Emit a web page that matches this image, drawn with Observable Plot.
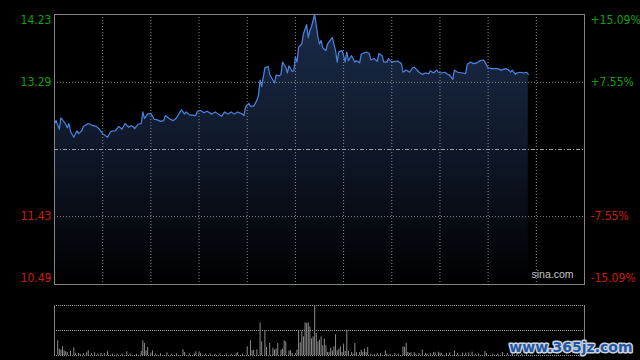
<!DOCTYPE html>
<html>
<head>
<meta charset="utf-8">
<script src="https://cdn.jsdelivr.net/npm/d3@7"></script>
<script src="https://cdn.jsdelivr.net/npm/@observablehq/plot@0.6"></script>
<style>
  html, body { margin: 0; padding: 0; background: #000; }
  #wrap { position: relative; width: 640px; height: 360px; background: #000; overflow: hidden; }
  #price, #vol { position: absolute; left: 0; }
  #price { top: 0; }
  #vol { top: 290px; }
</style>
</head>
<body>
<div id="wrap"><div id="price"></div><div id="vol"></div></div>
<script>
// ---- data ----
const prevClose = 12.36;
const sessionMinutes = 330; // 09:30-12:00, 13:00-16:00
const gridMinutes = [30, 60, 90, 120, 150, 180, 210, 240, 270, 300];

const minutes = [0,1,3,4,7,8,9,10,12,14,15,17,18,21,24,26,28,30,33,35,38,40,42,44,46,48,50,52,54,55,56,58,60,62,64,66,68,69,72,74,76,79,81,82,84,88,89,91,93,95,98,100,102,104,106,108,110,112,114,117,118,119,121,122,124,126,127,128,129,131,133,134,135,137,138,140,141,142,144,145,146,148,149,150,151,152,154,155,157,158,159,160,162,164,165,166,167,169,170,173,175,176,177,179,180,181,182,183,185,187,188,190,191,192,194,196,197,199,201,202,204,205,207,208,210,212,214,216,217,219,221,223,224,227,229,231,233,234,236,238,239,241,243,245,246,248,249,251,254,256,257,259,261,263,265,267,268,270,272,274,276,278,281,283,284,285,287,288,290,292,294,295];
const prices = [12.72,12.76,12.64,12.80,12.71,12.66,12.72,12.61,12.53,12.62,12.58,12.62,12.68,12.72,12.69,12.68,12.64,12.58,12.53,12.61,12.62,12.68,12.64,12.72,12.67,12.69,12.65,12.71,12.72,12.88,12.79,12.85,12.86,12.78,12.77,12.75,12.76,12.83,12.78,12.76,12.80,12.91,12.85,12.88,12.84,12.83,12.89,12.90,12.87,12.89,12.85,12.88,12.85,12.82,12.88,12.85,12.88,12.85,12.88,12.85,12.83,12.95,13.00,12.96,12.96,13.04,13.11,13.32,13.23,13.49,13.51,13.40,13.36,13.28,13.39,13.38,13.40,13.57,13.50,13.42,13.52,13.44,13.45,13.64,13.57,13.78,13.82,13.96,14.09,13.91,14.01,14.06,14.23,13.92,13.82,13.87,13.77,13.73,13.82,13.91,13.73,13.57,13.71,13.73,13.66,13.57,13.71,13.59,13.66,13.57,13.59,13.56,13.68,13.69,13.71,13.69,13.60,13.62,13.58,13.69,13.66,13.57,13.57,13.62,13.57,13.58,13.58,13.55,13.43,13.46,13.43,13.49,13.50,13.43,13.40,13.42,13.41,13.45,13.42,13.46,13.43,13.42,13.43,13.40,13.39,13.33,13.46,13.43,13.42,13.41,13.54,13.57,13.55,13.56,13.59,13.60,13.57,13.49,13.48,13.48,13.48,13.46,13.48,13.46,13.43,13.46,13.40,13.42,13.43,13.42,13.43,13.40];

const volMinutes = [0,2,3,4,5,6,7,8,10,12,13,15,16,18,20,21,23,25,27,29,31,33,36,39,42,45,47,51,54,55,56,57,58,60,61,63,66,70,73,76,80,81,84,87,88,90,91,94,97,100,103,107,110,113,114,117,120,122,123,124,126,128,129,131,132,134,136,137,138,139,141,142,143,144,146,147,148,150,151,152,153,154,155,156,157,158,159,160,161,162,163,164,165,166,167,168,169,170,171,172,173,174,175,176,177,178,179,180,181,182,183,185,186,187,188,190,191,192,193,194,195,197,199,201,203,206,207,209,212,214,217,218,219,220,221,222,224,225,227,229,231,232,234,236,237,239,240,241,244,246,249,251,254,256,258,260,262,264,268,269,273,276,279,282,285,288,291,294];
const volumes = [24,44,19,16,26,14,11,9,12,23,6,6,4,6,8,14,6,8,4,6,6,11,4,4,4,11,4,4,12,44,36,14,24,7,14,5,5,8,4,5,17,9,5,5,11,11,6,4,4,4,5,4,4,5,8,4,26,44,14,16,17,98,41,74,24,36,22,16,19,36,16,19,44,41,14,14,6,6,16,74,38,72,56,98,96,98,86,50,56,149,66,41,46,56,29,49,29,9,9,22,14,26,62,14,19,26,9,34,12,76,12,9,4,36,9,9,16,9,19,9,24,4,4,6,6,14,4,4,6,4,26,24,36,9,6,8,9,4,6,16,6,4,6,9,8,10,7,6,6,8,14,6,7,7,8,10,4,4,12,6,4,4,9,6,7,6,5,6];

const leftTicks = [14.23, 13.29, 11.43, 10.49];
const leftLabels = ["14.23", "13.29", "11.43", "10.49"];
const rightLabels = ["+15.09%", "+7.55%", "-7.55%", "-15.09%"];
const sourceLabel = "sina.com";
const watermark = "www.365jz.com";

// ---- styles ----
const UP = "#12a012", DOWN = "#d01a0a";
const GRID = "#8a8a8a", FRAME = "#858585";
const LABEL_FONT = "'Liberation Sans Narrow', 'DejaVu Sans Condensed', 'Liberation Sans', sans-serif";

const priceData = minutes.map((m, i) => ({m, p: prices[i]}));
const volData = volMinutes.map((m, i) => ({m, v: volumes[i]}));

const labelMarks = [];
leftTicks.forEach((v, i) => {
  const dy = i === 0 ? 6 : i === leftTicks.length - 1 ? -6 : 0;
  const fill = v > prevClose ? UP : DOWN;
  labelMarks.push(Plot.text([v], {y: d => d, text: [leftLabels[i]], frameAnchor: "left", textAnchor: "end", dx: -3, dy, fill, fontSize: 12, fontFamily: LABEL_FONT}));
  labelMarks.push(Plot.text([v], {y: d => d, text: [rightLabels[i]], frameAnchor: "right", textAnchor: "start", dx: 6, dy, fill, fontSize: 12, fontFamily: LABEL_FONT}));
});

const price = Plot.plot({
  width: 640, height: 290,
  marginLeft: 54, marginRight: 56, marginTop: 14, marginBottom: 6,
  style: {background: "transparent", color: "#ccc"},
  x: {domain: [0, sessionMinutes], axis: null},
  y: {domain: [leftTicks[3], leftTicks[0]], axis: null},
  marks: [
    Plot.areaY(priceData, {x: "m", y1: leftTicks[3], y2: "p", fill: "url(#areaGrad)"}),
    Plot.ruleX(gridMinutes, {stroke: GRID, strokeDasharray: "1,2"}),
    Plot.ruleY([leftTicks[1], leftTicks[2]], {stroke: GRID, strokeDasharray: "1,2"}),
    Plot.ruleY([prevClose], {stroke: "#9aa0a8", strokeDasharray: "4,2,1,2"}),
    Plot.lineY(priceData, {x: "m", y: "p", stroke: "#4a84e0", strokeWidth: 1.2}),
    Plot.frame({stroke: FRAME}),
    Plot.text([sourceLabel], {frameAnchor: "bottom-right", textAnchor: "end", dx: -11, dy: -7, fill: "#c4c4c4", fontSize: 10.5, fontFamily: "'Liberation Sans', Arial, sans-serif"}),
    ...labelMarks
  ]
});

// gradient for the area
const ns = "http://www.w3.org/2000/svg";
const defs = document.createElementNS(ns, "defs");
const grad = document.createElementNS(ns, "linearGradient");
grad.setAttribute("id", "areaGrad");
grad.setAttribute("x1", "0"); grad.setAttribute("y1", "0");
grad.setAttribute("x2", "0"); grad.setAttribute("y2", "1");
[["0", "#1b2b4a"], ["0.5", "#0f1829"], ["1", "#000000"]].forEach(([o, c]) => {
  const s = document.createElementNS(ns, "stop");
  s.setAttribute("offset", o); s.setAttribute("stop-color", c);
  grad.appendChild(s);
});
defs.appendChild(grad);
price.insertBefore(defs, price.firstChild);
document.getElementById("price").appendChild(price);

const vol = Plot.plot({
  width: 640, height: 70,
  marginLeft: 54, marginRight: 56, marginTop: 15, marginBottom: 5,
  style: {background: "transparent", color: "#ccc"},
  x: {domain: [0, sessionMinutes], axis: null},
  y: {domain: [0, 150], axis: null},
  marks: [
    Plot.ruleY([0, 75, 150], {stroke: "#9a9a9a", strokeDasharray: "1,1"}),
    Plot.ruleX(volData, {x: "m", y1: 0, y2: "v", stroke: "#8c8c8c"}),
    Plot.ruleX([0, sessionMinutes], {stroke: FRAME}),
    Plot.text([watermark], {frameAnchor: "bottom-right", textAnchor: "end", lineAnchor: "bottom", dx: 48, dy: -4, fill: "#2556a3", stroke: "#c9d2df", strokeWidth: 3, fontSize: 14, fontWeight: "bold", fontFamily: "'DejaVu Sans', sans-serif"})
  ]
});
document.getElementById("vol").appendChild(vol);
</script>
</body>
</html>
